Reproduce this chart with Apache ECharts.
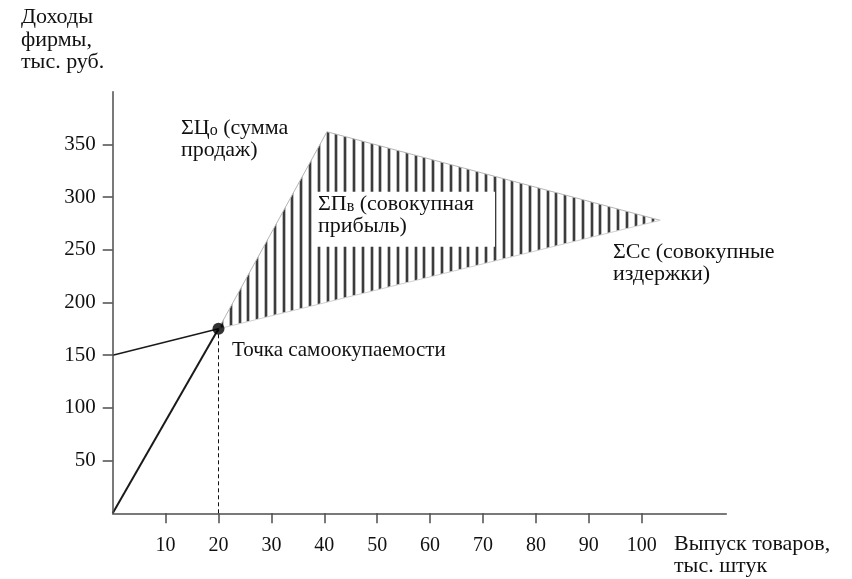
<!DOCTYPE html>
<html>
<head>
<meta charset="utf-8">
<script src="https://cdn.jsdelivr.net/npm/echarts@6/dist/echarts.min.js"></script>
<style>
html,body{margin:0;padding:0;background:#fff;}
#chart{width:852px;height:579px;}
</style>
</head>
<body>
<div id="chart"></div>
<script>
// ---- data ----
const xTickValues = [10, 20, 30, 40, 50, 60, 70, 80, 90, 100];
const yTickValues = [50, 100, 150, 200, 250, 300, 350];
const revenueX = [0, 20, 40.5, 103.5];
const revenueY = [0, 175, 362, 278];
const costX = [0, 20, 103.5];
const costY = [150, 175, 278];
const breakEven = [20, 175];

const xTitle = 'Выпуск товаров,\nтыс. штук';
const yTitle = 'Доходы\nфирмы,\nтыс. руб.';
const breakEvenLabel = 'Точка самоокупаемости';

// ---- helpers ----
const pts = (xs, ys) => xs.map((x, i) => [x, ys[i]]);

function hatchPattern() {
  const c = document.createElement('canvas');
  c.width = 44; c.height = 4;
  const g = c.getContext('2d');
  g.fillStyle = '#ffffff';
  g.fillRect(0, 0, 44, 4);
  for (let i = 0; i < 5; i++) {
    const x = Math.round(i * 8.8);
    g.fillStyle = '#bdbdbd';
    g.fillRect(x, 0, 1, 4);
    g.fillRect(x + 3, 0, 1, 4);
    g.fillStyle = '#3c3c3c';
    g.fillRect(x + 1, 0, 2, 4);
  }
  return c;
}
const PATTERN = {image: hatchPattern(), repeat: 'repeat'};

const FONT = '"Liberation Serif", "Times New Roman", serif';
const chart = echarts.init(document.getElementById('chart'), null, {renderer: 'canvas'});

const axisLineStyle = {color: '#4d4d4d', width: 1.5};
const revPts = pts(revenueX, revenueY);
const costPts = pts(costX, costY);
const profitPoly = revPts.slice(1).concat(costPts.slice(1).reverse());

const richBase = {fontFamily: FONT, fontSize: 22, lineHeight: 22, fill: '#111', color: '#111'};
const richSub = {fontFamily: FONT, fontSize: 16, lineHeight: 22, fill: '#111', color: '#111', verticalAlign: 'bottom', padding: [9, 0, 0, 0]};

const option = {
  animation: false,
  backgroundColor: '#ffffff',
  grid: {left: 112.7, top: 91.7, width: 5.29 * 116, height: 421.6, containLabel: false},
  xAxis: {
    type: 'value', min: 0, max: 116, z: 10,
    interval: 10,
    axisLine: {show: true, onZero: false, lineStyle: axisLineStyle},
    axisTick: {show: true, inside: false, length: 10, lineStyle: axisLineStyle,
      customValues: xTickValues},
    axisLabel: {show: true, margin: 22, color: '#111', fontFamily: FONT, fontSize: 20,
      customValues: xTickValues},
    splitLine: {show: false}
  },
  yAxis: {
    type: 'value', min: 0, max: 400, z: 10,
    interval: 50,
    axisLine: {show: true, onZero: false, lineStyle: axisLineStyle},
    axisTick: {show: true, inside: false, length: 10, lineStyle: axisLineStyle,
      customValues: yTickValues},
    axisLabel: {show: true, margin: 17, color: '#111', fontFamily: FONT, fontSize: 21,
      customValues: yTickValues},
    splitLine: {show: false}
  },
  series: [
    { // hatched profit region between revenue and cost
      type: 'custom', z: 2, silent: true, clip: false,
      data: [[0, 0]],
      renderItem: function (params, api) {
        return {
          type: 'polygon',
          shape: {points: profitPoly.map(p => api.coord(p))},
          style: {fill: PATTERN, stroke: null}
        };
      }
    },
    { // faint upper edge of the hatch
      type: 'line', z: 4, silent: true, symbol: 'none',
      data: revPts.slice(1),
      lineStyle: {width: 1, color: '#b5b5b5'}
    },
    { // faint lower edge (cost line inside hatch)
      type: 'line', z: 4, silent: true, symbol: 'none',
      data: costPts.slice(1),
      lineStyle: {width: 1, color: '#cfcfcf'}
    },
    { // dashed guide from break-even to x axis
      type: 'line', z: 5, silent: true, symbol: 'none',
      data: [[breakEven[0], 0], breakEven],
      lineStyle: {width: 1, color: '#111', type: [4, 3]}
    },
    { // revenue line from origin to break-even
      type: 'line', z: 6, silent: true, symbol: 'none',
      data: revPts.slice(0, 2),
      lineStyle: {width: 2, color: '#1a1a1a'}
    },
    { // fixed-cost line up to break-even
      type: 'line', z: 6, silent: true, symbol: 'none',
      data: costPts.slice(0, 2),
      lineStyle: {width: 1.5, color: '#1a1a1a'}
    },
    { // break-even point
      type: 'scatter', z: 7, silent: true,
      symbol: 'circle', symbolSize: 12,
      itemStyle: {color: '#000'},
      data: [breakEven]
    }
  ],
  graphic: [
    {type: 'text', left: 21, top: 6, z: 20,
      style: {text: yTitle, font: '22px ' + FONT, fill: '#111', lineHeight: 22.5}},
    {type: 'text', left: 674, top: 533, z: 20,
      style: {text: xTitle, font: '22px ' + FONT, fill: '#111', lineHeight: 22}},
    {type: 'text', left: 181, top: 114, z: 20,
      style: {
        text: '{a|ΣЦ}{s|о}{a| (сумма}\n{a|продаж)}',
        rich: {a: richBase, s: richSub}
      }},
    {type: 'rect', z: 19, shape: {x: 313, y: 191.7, width: 182, height: 55},
      style: {fill: '#ffffff'}},
    {type: 'text', left: 318, top: 190, z: 20,
      style: {
        text: '{a|ΣП}{s|в}{a| (совокупная}\n{a|прибыль)}',
        rich: {a: richBase, s: richSub}
      }},
    {type: 'text', left: 613, top: 241, z: 20,
      style: {text: 'ΣCc (совокупные\nиздержки)', font: '22px ' + FONT, fill: '#111', lineHeight: 22}},
    {type: 'text', left: 232, top: 340, z: 20,
      style: {text: breakEvenLabel, font: '21px ' + FONT, fill: '#111'}}
  ]
};
chart.setOption(option);
</script>
</body>
</html>
